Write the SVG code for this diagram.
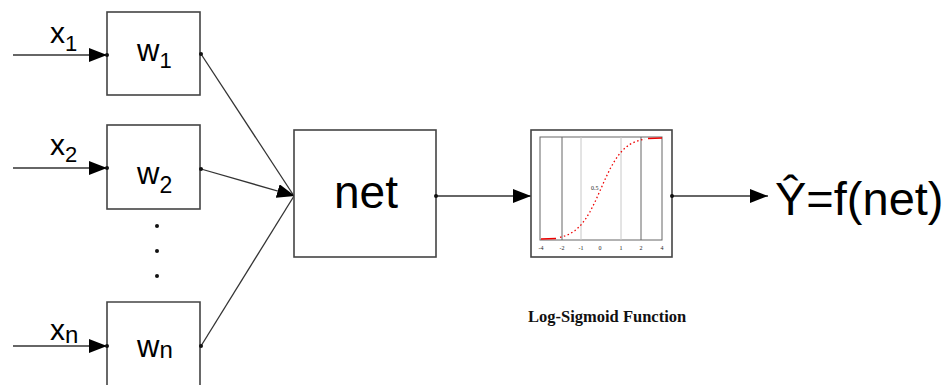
<svg xmlns="http://www.w3.org/2000/svg" width="951" height="385" viewBox="0 0 951 385">
<defs>
<style>
.box{fill:#fff;stroke:#444;stroke-width:1.6}
.ln{fill:none;stroke:#333;stroke-width:1.3}
.lbl{font-family:"Liberation Sans",Arial,sans-serif;fill:#000}
.dot{fill:#111}
.grid{stroke:#666;stroke-width:1;fill:none}
.gridl{stroke:#c8c8c8;stroke-width:1}
.tick{font-family:"Liberation Serif",serif;font-size:6px;fill:#222}
</style>
<marker id="arr" markerUnits="userSpaceOnUse" markerWidth="20" markerHeight="16" refX="18" refY="7" orient="auto">
<path d="M0,0 L18,7 L0,14 Z" fill="#000"/>
</marker>
</defs>
<rect width="951" height="385" fill="#fff"/>

<g id="connectors">
<line class="ln" x1="13" y1="55" x2="107" y2="55" marker-end="url(#arr)"/>
<line class="ln" x1="13" y1="168" x2="107" y2="168" marker-end="url(#arr)"/>
<line class="ln" x1="13" y1="346" x2="107" y2="346" marker-end="url(#arr)"/>
<line class="ln" x1="201" y1="54" x2="294" y2="196"/>
<line class="ln" x1="201" y1="346" x2="294" y2="196"/>
<line class="ln" x1="201" y1="169" x2="295" y2="196" marker-end="url(#arr)"/>
<line class="ln" x1="436" y1="196" x2="531" y2="196" marker-end="url(#arr)"/>
<line class="ln" x1="672" y1="196" x2="768" y2="196" marker-end="url(#arr)"/>
</g>

<g id="x1"><text class="lbl" x="50" y="43" font-size="30">x<tspan font-size="22" dy="8">1</tspan></text></g>
<g id="x2"><text class="lbl" x="50" y="155" font-size="30">x<tspan font-size="22" dy="7">2</tspan></text></g>
<g id="xn"><text class="lbl" x="50" y="340" font-size="30">x<tspan font-size="24" dy="3">n</tspan></text></g>

<g id="w1">
<rect class="box" x="107" y="12" width="93" height="83"/>
<text class="lbl" x="137" y="61" font-size="31">w<tspan font-size="22" dy="7">1</tspan></text>
<circle class="dot" cx="107" cy="55" r="2"/><circle class="dot" cx="201" cy="54" r="2"/>
</g>
<g id="w2">
<rect class="box" x="107" y="125" width="93" height="84"/>
<text class="lbl" x="137" y="184" font-size="31">w<tspan font-size="23" dy="9">2</tspan></text>
<circle class="dot" cx="107" cy="168" r="2"/><circle class="dot" cx="201" cy="169" r="2"/>
</g>
<g id="dots">
<circle class="dot" cx="157" cy="226" r="2"/>
<circle class="dot" cx="157" cy="251" r="2"/>
<circle class="dot" cx="157" cy="276" r="2"/>
</g>
<g id="wn">
<path class="box" d="M107,386 V302 H200 V386"/>
<text class="lbl" x="137" y="357" font-size="31">w<tspan font-size="24" dy="1">n</tspan></text>
<circle class="dot" cx="107" cy="346" r="2"/><circle class="dot" cx="201" cy="346" r="2"/>
</g>

<g id="net">
<rect class="box" x="294" y="130" width="142" height="127" stroke-width="2"/>
<text class="lbl" x="366" y="208" font-size="46" text-anchor="middle">net</text>
<circle class="dot" cx="436" cy="196" r="2"/>
</g>

<g id="sigmoid">
<rect class="box" x="531" y="130" width="141" height="127" stroke-width="2"/>
<rect class="grid" x="540" y="137" width="122" height="103"/>
<line class="gridl" x1="581" y1="137" x2="581" y2="240"/>
<line class="gridl" x1="621" y1="137" x2="621" y2="240"/>
<line class="grid" x1="562" y1="137" x2="562" y2="240"/>
<line class="grid" x1="641" y1="137" x2="641" y2="240"/>
<path d="M541,239 L556,238.5" stroke="#e00" stroke-width="1.6" fill="none"/>
<path d="M648,138.5 L662,138" stroke="#e00" stroke-width="1.6" fill="none"/>
<path d="M560,237.3 L565,235.9 L570,233.8 L575,230.6 L580,226.1 L585,219.9 L590,211.8 L595,201.9 L600,190.8 L605,179.5 L610,169 L615,160.2 L620,153.2 L625,148 L630,144.3 L635,141.8 L640,140.2 L645,139.1" stroke="#e00" stroke-width="1.3" fill="none" stroke-dasharray="1.5,2.5"/>
<text class="tick" x="591" y="190">0.5</text>
<text class="tick" x="541" y="250" text-anchor="middle">-4</text>
<text class="tick" x="562" y="250" text-anchor="middle">-2</text>
<text class="tick" x="581" y="250" text-anchor="middle">-1</text>
<text class="tick" x="600" y="250" text-anchor="middle">0</text>
<text class="tick" x="621" y="250" text-anchor="middle">1</text>
<text class="tick" x="641" y="250" text-anchor="middle">2</text>
<text class="tick" x="662" y="250" text-anchor="middle">4</text>
<circle class="dot" cx="672" cy="196" r="2"/>
</g>

<g id="output">
<text class="lbl" x="775" y="215" font-size="47">Ŷ=f(net)</text>
</g>

<g id="caption">
<text x="528" y="322" font-family="'Liberation Serif','Times New Roman',serif" font-weight="bold" font-size="16.5" fill="#111">Log-Sigmoid Function</text>
</g>
</svg>
